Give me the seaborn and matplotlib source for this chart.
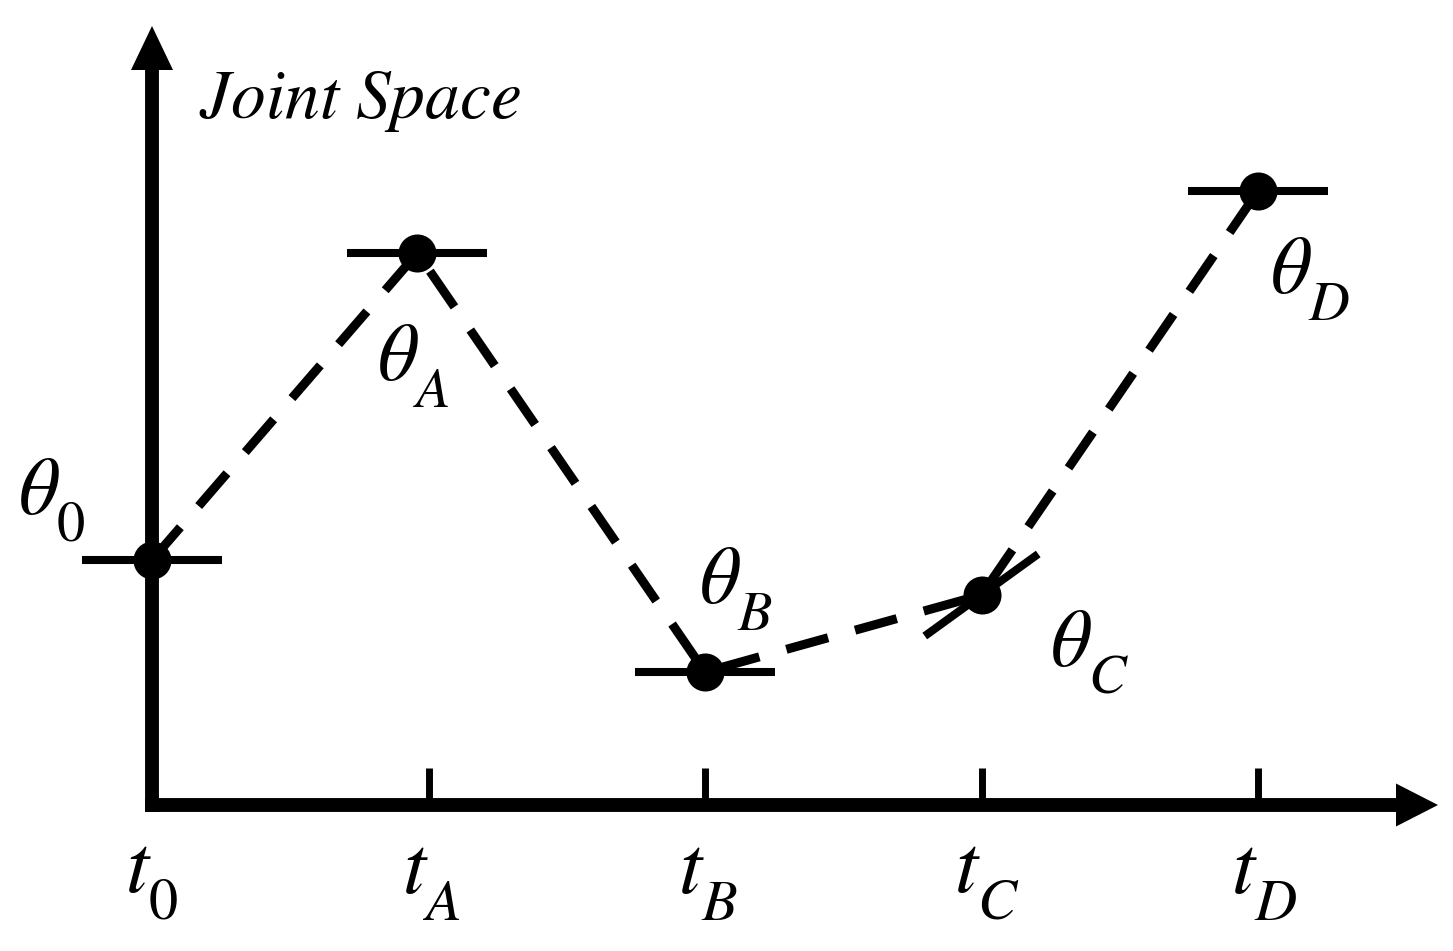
import numpy as np
import pandas as pd
import matplotlib
matplotlib.use("Agg")
import matplotlib.pyplot as plt
import matplotlib._mathtext as _mt
import seaborn as sns

# ---- data ----
times = [0.0, 0.96, 2.0, 3.0, 4.0]
thetas = [2.45, 5.52, 1.33, 2.10, 6.14]
tangent_slopes = [0.0, 0.0, 0.0, 2.0, 0.0]
theta_labels = [r"$\theta_0$", r"$\theta_A$", r"$\theta_B$", r"$\theta_C$", r"$\theta_D$"]
tick_positions = [0, 1, 2, 3, 4]
tick_labels = [r"$t_0$", r"$t_A$", r"$t_B$", r"$t_C$", r"$t_D$"]
title_text = r"$Joint\ Space$"

# ---- layout (pixels) ----
W, H = 1453, 951
X0_PX, Y0_PX = 152, 805      # origin position (from left / from top)
SX, SY = 276.5, 100.0        # pixels per data unit
label_offsets = [(-134, 45), (-40, -127), (-6, 69), (68, -72), (12, -102)]
tick_label_offset = (-27, -88)

sns.set_theme(style="white")
plt.rcParams["mathtext.fontset"] = "stix"
plt.rcParams["font.family"] = ["DejaVu Sans"]
# lower subscripts a bit (Cambria-Math-like look)
try:
    _mt.STIXFontConstants.sub1 = 0.75
    _mt.STIXFontConstants.script_space = 0.12
except Exception:
    pass

fig = plt.figure(figsize=(W / 100, H / 100), dpi=100)
ax = fig.add_axes([0, 0, 1, 1])
ax.set_xlim(-X0_PX / SX, (W - X0_PX) / SX)
ax.set_ylim(-(H - Y0_PX) / SY, Y0_PX / SY)
ax.axis("off")

def px_dx(p):
    return p / SX

def px_dy(p):
    return p / SY

# axes with arrow heads
axis_lw = 10
ax.plot([0, 0], [px_dy(-7), px_dy(Y0_PX - 68)], color="black", lw=axis_lw,
        solid_capstyle="butt", zorder=3)
ax.fill([-px_dx(21), px_dx(21), 0], [px_dy(Y0_PX - 70)] * 2 + [px_dy(Y0_PX - 26)],
        color="black", lw=0, zorder=3)
ax.plot([px_dx(-7), px_dx(1398 - X0_PX)], [0, 0], color="black", lw=axis_lw,
        solid_capstyle="butt", zorder=3)
ax.fill([px_dx(1396 - X0_PX)] * 2 + [px_dx(1438 - X0_PX)],
        [-px_dy(21.5), px_dy(21.5), 0], color="black", lw=0, zorder=3)

# ticks
for tp in tick_positions[1:]:
    ax.plot([tp, tp], [0, px_dy(37)], color="black", lw=5, solid_capstyle="butt", zorder=3)

# tick labels
for tp, lab in zip(tick_positions, tick_labels):
    ax.annotate(lab, xy=(tp, 0), xytext=tick_label_offset, textcoords="offset pixels",
                ha="left", va="baseline", fontsize=60, color="black")

# tangent lines
half = 70
for t, th, m in zip(times, thetas, tangent_slopes):
    ang = np.arctan(m * SY / SX)
    dx, dy = half * np.cos(ang), half * np.sin(ang)
    ax.plot([t - px_dx(dx), t + px_dx(dx)], [th - px_dy(dy), th + px_dy(dy)],
            color="black", lw=5.8, solid_capstyle="butt", zorder=4)

df = pd.DataFrame({"t": times, "theta": thetas})
sns.lineplot(data=df, x="t", y="theta", sort=False, estimator=None, color="black",
             lw=6.5, ax=ax, zorder=5)
ln = ax.lines[-1]
ln.set_dashes((4.8, 3.1))
ln.set_dash_capstyle("butt")

sns.scatterplot(data=df, x="t", y="theta", s=750, color="black", linewidth=0,
                ax=ax, zorder=6, legend=False)

for t, th, lab, off in zip(times, thetas, theta_labels, label_offsets):
    ax.annotate(lab, xy=(t, th), xytext=off, textcoords="offset pixels",
                ha="left", va="baseline", fontsize=58, color="black")

fig.text(199 / W, 1 - 118 / H, title_text, ha="left", va="baseline", fontsize=50,
         color="black")

fig.savefig("out.png", dpi=100, facecolor="white")
